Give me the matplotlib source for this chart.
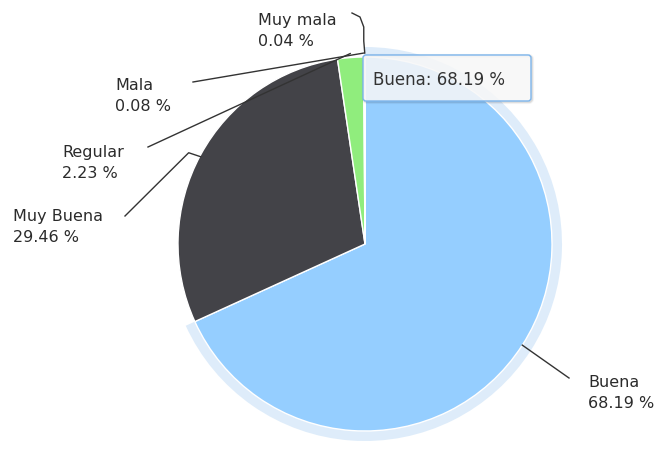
import matplotlib.pyplot as plt
import numpy as np
from matplotlib.patches import Wedge, FancyBboxPatch

# survey answers and their shares (%)
names = ["Buena", "Muy Buena", "Regular", "Mala", "Muy mala"]
shares = [68.19, 29.46, 2.23, 0.08, 0.04]
colors = ["#95ceff", "#434348", "#90ed7d", "#f7a35c", "#8085e9"]

# where each data label sits (left x, middle y) in pixels
label_pos = [(588, 393), (13, 227), (62, 163), (115, 96), (258, 31)]
# label-side end of each connector
anchor_pos = [(569, 379), (125, 217), (148, 148), (193, 83), (352, 14)]

CX, CY, R = 365, 245, 187


def edge_point(i, extra=0):
    before = sum(shares[:i])
    mid = 270 + 360 * (before + shares[i] / 2) / sum(shares)
    a = np.radians(mid)
    return CX + (R + extra) * np.cos(a), CY + (R + extra) * np.sin(a)


def main():
    fig = plt.figure(figsize=(6.56, 4.52), dpi=100)
    ax = fig.add_axes([0, 0, 1, 1])

    # hover halo round the Buena slice
    t2 = 270 + 360 * shares[0] / sum(shares)
    ax.add_patch(Wedge((CX, CY), R + 10, 270, t2, width=10,
                       facecolor="#7cb5ec", alpha=0.25, lw=0))

    ax.pie(shares, colors=colors, startangle=270, counterclock=True,
           center=(CX, CY), radius=R,
           wedgeprops=dict(edgecolor="white", linewidth=1))

    ax.set_xlim(0, 656)
    ax.set_ylim(452, 0)
    ax.set_aspect("equal")
    ax.axis("off")

    # data labels and connectors
    for i, name in enumerate(names):
        lx, ly = label_pos[i]
        ax.text(lx, ly, "%s\n%.2f %%" % (name, shares[i]), fontsize=11.5,
                color="#2b2b2b", ha="left", va="center", linespacing=1.45)
        ax0, ay0 = anchor_pos[i]
        ex, ey = edge_point(i, extra=4 if i >= 2 else 0)
        if i == 4:
            xs = [ax0, ax0 + 8, ex - 1, ex - 1, ex]
            ys = [ay0, ay0 + 4, ay0 + 14, ey - 12, ey]
        elif i == 1:
            xs = [ax0, ex - 12, ex]
            ys = [ay0, ey - 2, ey + 2]
        else:
            xs = [ax0, ex]
            ys = [ay0, ey]
        ax.plot(xs, ys, color="#333333", lw=1)

    # tooltip for the hovered slice
    for k, a in enumerate([0.03, 0.05, 0.07]):
        ax.add_patch(FancyBboxPatch((364, 57), 168, 46,
                                    boxstyle="round,pad=0,rounding_size=3",
                                    facecolor="none", edgecolor="black",
                                    lw=3 - k, alpha=a))
    ax.add_patch(FancyBboxPatch((363, 56), 168, 46,
                                boxstyle="round,pad=0,rounding_size=3",
                                facecolor=(0.97, 0.97, 0.97, 0.85),
                                edgecolor="#7cb5ec", lw=1))
    ax.text(373, 80, "%s: %.2f %%" % (names[0], shares[0]), fontsize=12,
            color="#333333", ha="left", va="center")

    fig.savefig("out.png", dpi=100)


if __name__ == "__main__":
    main()
